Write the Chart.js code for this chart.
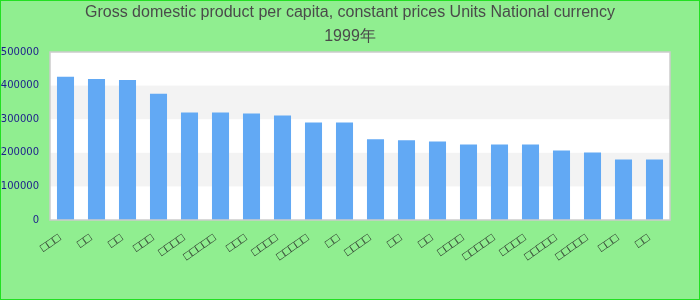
<!DOCTYPE html>
<html>
<head>
<meta charset="utf-8">
<script src="https://cdn.jsdelivr.net/npm/chart.js@4.4.1/dist/chart.umd.min.js"></script>
<style>
html,body{margin:0;padding:0;background:#90ee90;}
canvas{display:block;}
</style>
</head>
<body>
<canvas id="c" width="700" height="300"></canvas>
<script>
// Category labels are unreadable in the reference (rendered as missing-glyph boxes)
const categories = ['□□□','□□','□□','□□□','□□□□','□□□□□','□□□','□□□□','□□□□□','□□','□□□□','□□','□□','□□□□','□□□□□','□□□□','□□□□□','□□□□□','□□□','□□'];
const gdpValues = [426000,420000,417000,376000,320000,320000,317000,311000,290000,290000,240000,237000,234000,225000,225000,225000,207000,201000,180000,180000];
const yTickValues = [0,100000,200000,300000,400000,500000];
const bandRanges = [[100000,200000],[300000,400000]];
const titleLines = ['Gross domestic product per capita, constant prices Units National currency','1999年'];

const decor = {
  id: 'decor',
  afterLayout(chart) {
    const t = chart.titleBlock;
    if (t) { t.left = 0; t.right = chart.width; t.width = chart.width; }
  },
  beforeDraw(chart) {
    const ctx = chart.ctx, a = chart.chartArea, y = chart.scales.y;
    ctx.save();
    ctx.fillStyle = '#90ee90';
    ctx.fillRect(0,0,chart.width,chart.height);
    ctx.strokeStyle = '#22e022';
    ctx.lineWidth = 1;
    ctx.strokeRect(0.5,0.5,chart.width-1,chart.height-1);
    ctx.fillStyle = '#ffffff';
    ctx.fillRect(a.left,a.top,a.right-a.left,a.bottom-a.top);
    ctx.fillStyle = '#f3f3f3';
    bandRanges.forEach(([lo,hi]) => {
      const y1 = y.getPixelForValue(hi), y2 = y.getPixelForValue(lo);
      ctx.fillRect(a.left,y1,a.right-a.left,y2-y1);
    });
    ctx.restore();
  },
  afterDatasetsDraw(chart) {
    const ctx = chart.ctx, a = chart.chartArea;
    ctx.save();
    ctx.strokeStyle = '#cccccc';
    ctx.lineWidth = 1.5;
    ctx.strokeRect(a.left,a.top,a.right-a.left,a.bottom-a.top);
    ctx.restore();
  }
};

new Chart(document.getElementById('c'), {
  type: 'bar',
  data: {
    labels: categories,
    datasets: [{ data: gdpValues, backgroundColor: '#62a9f4', borderWidth: 0, categoryPercentage: 1.0, barPercentage: 0.55 }]
  },
  options: {
    responsive: false,
    animation: false,
    devicePixelRatio: 1,
    layout: { padding: { left: 0, right: 30, top: 0, bottom: 0 } },
    plugins: {
      legend: { display: false },
      tooltip: { enabled: false },
      title: {
        display: true,
        text: titleLines,
        color: '#4a4a4a',
        font: { family: 'Liberation Sans', size: 16, weight: 'normal', lineHeight: 1.5 },
        padding: { top: 1, bottom: 3 }
      }
    },
    scales: {
      x: {
        grid: { display: false, drawTicks: false },
        border: { display: false },
        afterFit(s) { s.height = 80; },
        ticks: {
          autoSkip: false,
          minRotation: 35,
          maxRotation: 35,
          padding: 11,
          labelOffset: -6,
          color: '#222222',
          font: { family: 'Liberation Sans', size: 12 }
        }
      },
      y: {
        min: 0,
        max: 500000,
        grid: { display: false, drawTicks: false },
        border: { display: false },
        afterFit(s) { s.width = 50; },
        afterBuildTicks(s) { s.ticks = yTickValues.map(v => ({ value: v })); },
        ticks: {
          padding: 11,
          color: '#1c1c8c',
          font: { family: 'DejaVu Sans', size: 10 },
          callback: v => String(v)
        }
      }
    }
  },
  plugins: [decor]
});
</script>
</body>
</html>
